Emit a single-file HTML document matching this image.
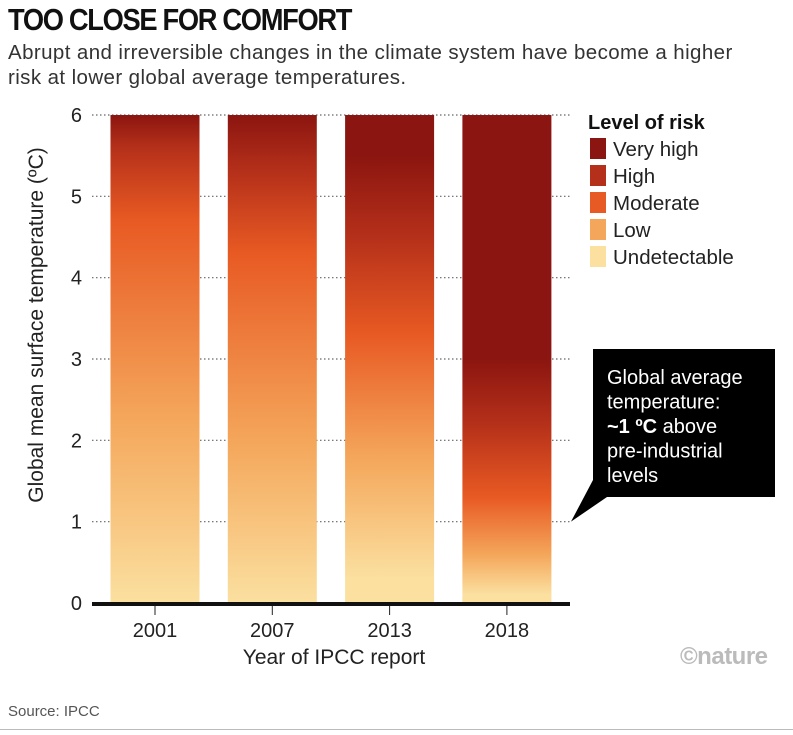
<!DOCTYPE html>
<html><head><meta charset="utf-8"><style>
body{margin:0;background:#fff;font-family:"Liberation Sans",sans-serif;}
#wrap{position:relative;width:793px;height:735px;overflow:hidden;}
.t{position:absolute;white-space:nowrap;}
</style></head><body>
<div id="wrap">
<div class="t" style="left:8px;top:2px;font-size:31px;font-weight:bold;letter-spacing:-1.5px;transform:scaleX(0.88);transform-origin:left;color:#111;">TOO CLOSE FOR COMFORT</div>
<div style="position:absolute;left:8px;top:40px;font-size:20.5px;letter-spacing:0.4px;line-height:25px;color:#333;width:770px;">Abrupt and irreversible changes in the climate system have become a higher<br>risk at lower global average temperatures.</div>
<svg id="chart" width="793" height="735" style="position:absolute;left:0;top:0"></svg>
<div class="t" style="left:8px;top:703px;font-size:15px;color:#555;">Source: IPCC</div>
<div style="position:absolute;left:0;top:729px;width:793px;height:1px;background:#bbb;"></div>
<div class="t" style="left:680px;top:643px;font-size:24px;font-weight:bold;color:#bbb;letter-spacing:-0.5px;">©nature</div>
</div>
<script>
const years=["2001","2007","2013","2018"];
const levels=["Very high","High","Moderate","Low","Undetectable"];
const levelColors=["#8b1510","#b5301a","#e85a23","#f4a65a","#fbe0a0"];
// temperature (°C) at which each level is fully reached: [undetectable, low, moderate, high, very high]
const stops2001=[0,2.3,4.7,5.6,6];
const stops2007=[0,2.0,4.3,5.3,6];
const stops2013=[0.3,1.8,3.3,4.5,5.5];
const stops2018=[0.1,0.6,1.3,2.2,3.0];
const barTop=[6,6,6,6];
const yTicks=[0,1,2,3,4,5,6];
const currentTemp=1;

const NS="http://www.w3.org/2000/svg";
const svg=document.getElementById('chart');
const y0=603,y6=115,xL=92,xR=570;
const y=v=>y0-(v/6)*(y0-y6);
const xc=i=>155+i*117.3;
const bw=89;
function mk(tag,attrs,parent){const e=document.createElementNS(NS,tag);for(const k in attrs)e.setAttribute(k,attrs[k]);(parent||svg).appendChild(e);return e;}
const defs=mk('defs',{});
yTicks.forEach(v=>{
  if(v>0){const l=mk('line',{x1:xL,x2:xR,y1:y(v),y2:y(v),stroke:'#666','stroke-dasharray':'1.5 2.5','stroke-width':1.2});
  
  }
  const t=mk('text',{x:82,y:y(v)+7,'text-anchor':'end','font-size':20,fill:'#222','font-family':'Liberation Sans'});
  t.textContent=v;
  
  
});
const allStops=[stops2001,stops2007,stops2013,stops2018];
years.forEach((yr,i)=>{
  const g=mk('linearGradient',{id:'g'+i,x1:0,y1:y0,x2:0,y2:y(barTop[i]),gradientUnits:'userSpaceOnUse'},defs);
  const s=allStops[i];
  for(let k=0;k<5;k++){mk('stop',{offset:(s[k]/6),'stop-color':levelColors[4-k]},g);}
  const r=mk('rect',{x:xc(i)-bw/2,y:y(barTop[i]),width:bw,height:y0-y(barTop[i]),fill:'url(#g'+i+')'});
  
  
  mk('line',{x1:xc(i),x2:xc(i),y1:y0,y2:y0+12,stroke:'#222','stroke-width':1});
  const t=mk('text',{x:xc(i),y:y0+34,'text-anchor':'middle','font-size':20,fill:'#222','font-family':'Liberation Sans'});
  t.textContent=yr;
  
  
});
const ax=mk('line',{x1:xL,x2:xR,y1:y0+1,y2:y0+1,stroke:'#111','stroke-width':4});


const xt=mk('text',{x:334,y:664,'text-anchor':'middle','font-size':21,fill:'#222','font-family':'Liberation Sans'});
xt.textContent='Year of IPCC report';


const yt=mk('text',{x:0,y:0,'text-anchor':'middle','font-size':21,fill:'#222','font-family':'Liberation Sans',transform:'translate(43,325) rotate(-90)'});
yt.textContent='Global mean surface temperature (ºC)';


// legend
const lt=mk('text',{x:588,y:129,'font-size':20,'font-weight':'bold',fill:'#111','font-family':'Liberation Sans'});
lt.textContent='Level of risk';


levels.forEach((lv,k)=>{
  const yy=138+k*27;
  const sw=mk('rect',{x:590,y:yy,width:16,height:21,fill:levelColors[k]});
  
  
  const t=mk('text',{x:613,y:yy+18,'font-size':20.5,fill:'#222','font-family':'Liberation Sans'});
  t.textContent=lv;
  
  
});
// callout
const cy=y(currentTemp);
const cb=mk('path',{d:`M593 349 H775 V497 H607 L${xR+1} ${cy} L593 480 Z`,fill:'#000'});


const lines=[['Global average'],['temperature:'],['~1 ºC',' above'],['pre-industrial'],['levels']];
lines.forEach((ln,k)=>{
  const t=mk('text',{x:607,y:384+k*24.5,'font-size':20,fill:'#fff','font-family':'Liberation Sans'});
  if(ln.length===2){const b=mk('tspan',{'font-weight':'bold'},t);b.textContent=ln[0];const s=mk('tspan',{},t);s.textContent=ln[1];}
  else t.textContent=ln[0];
  
  
});
</script>
</body></html>
